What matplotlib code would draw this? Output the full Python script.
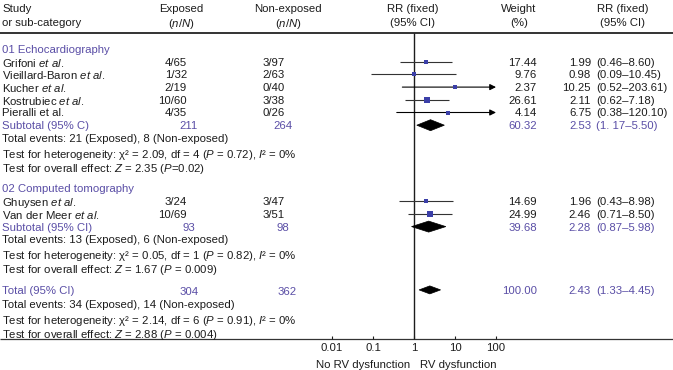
"""
Forest plot: RV dysfunction and mortality, fixed-effect risk ratios by imaging modality.
"""

import matplotlib
matplotlib.use("Agg")
import matplotlib.pyplot as plt
import matplotlib.ticker as mticker
from matplotlib.patches import Polygon

# ---- data -------------------------------------------------------------
studies      = ["Grifoni", "Vieillard-Baron", "Kucher", "Kostrubiec", "Pieralli",
                "Ghuysen", "Van der Meer"]
etal_italic  = [True, True, True, True, False, True, True]
study_group  = [0, 0, 0, 0, 0, 1, 1]
exp_events   = [4, 1, 2, 10, 4, 3, 10]
exp_total    = [65, 32, 19, 60, 35, 24, 69]
non_events   = [3, 2, 0, 3, 0, 3, 3]
non_total    = [97, 63, 40, 38, 26, 47, 51]
weights      = [17.44, 9.76, 2.37, 26.61, 4.14, 14.69, 24.99]
rr           = [1.99, 0.98, 10.25, 2.11, 6.75, 1.96, 2.46]
rr_lo        = [0.46, 0.09, 0.52, 0.62, 0.38, 0.43, 0.71]
rr_hi        = [8.60, 10.45, 203.61, 7.18, 120.10, 8.98, 8.50]

groups        = ["01 Echocardiography", "02 Computed tomography"]
sub_labels    = ["Subtotal (95% C)", "Subtotal (95% CI)"]
sub_exp_n     = [211, 93]
sub_non_n     = [264, 98]
sub_weight    = [60.32, 39.68]
sub_rr        = [2.53, 2.28]
sub_lo        = [1.17, 0.87]
sub_hi        = [5.50, 5.98]
sub_ci_text   = ["(1. 17–5.50)", "(0.87–5.98)"]
sub_ev_exp    = [21, 13]
sub_ev_non    = [8, 6]
sub_chi2      = [2.09, 0.05]
sub_df        = [4, 1]
sub_het_p     = ["0.72", "0.82"]
sub_i2        = [0, 0]
sub_z         = [2.35, 1.67]
sub_z_p       = ["$P$=0.02", "$P$ = 0.009"]

tot_exp_n, tot_non_n = 304, 362
tot_weight = 100.00
tot_rr, tot_lo, tot_hi = 2.43, 1.33, 4.45
tot_ev_exp, tot_ev_non = 34, 14
tot_chi2, tot_df, tot_het_p, tot_i2 = 2.14, 6, "0.91", 0
tot_z, tot_z_p = 2.88, "$P$ = 0.004"

ticks       = [0.01, 0.1, 1, 10, 100]
tick_labels = ["0.01", "0.1", "1", "10", "100"]

# ---- style ------------------------------------------------------------
INK, PURPLE, SQUARE = "#1c1c1c", "#5a4ea6", "#3b3fa8"
FS = 8.2
plt.rcParams.update({
    "font.family":      "Liberation Sans",
    "mathtext.fontset": "custom",
    "mathtext.rm":      "Liberation Sans",
    "mathtext.it":      "Liberation Sans:italic",
    "mathtext.bf":      "Liberation Sans:bold",
    "font.size":        FS,
})

W, H = 673, 370
X_LO, X_HI = 332, 496      # pixel span of 0.01 .. 100
TOP_LINE, AX_BOTTOM = 33, 339

fig = plt.figure(figsize=(W / 100, H / 100), dpi=100)
tx = fig.add_axes([0, 0, 1, 1])
tx.set_xlim(0, W)
tx.set_ylim(H, 0)
tx.axis("off")

fx = fig.add_axes([X_LO / W, (H - AX_BOTTOM) / H, (X_HI - X_LO) / W, AX_BOTTOM / H])
fx.set_xscale("log")
fx.set_xlim(0.01, 100)
fx.set_ylim(AX_BOTTOM, 0)
fx.patch.set_alpha(0)
for s in fx.spines.values():
    s.set_visible(False)
fx.set_yticks([])
fx.set_xticks(ticks)
fx.set_xticklabels(tick_labels)
fx.xaxis.set_minor_locator(mticker.NullLocator())
fx.tick_params(axis="x", direction="in", length=2.5, width=0.8, pad=3.2,
               labelsize=FS, colors=INK)


def t(x, y, s, ha="left", color=INK, **kw):
    tx.text(x, y, s, ha=ha, va="center_baseline", color=color, fontsize=FS, **kw)


# column positions (pixels)
C_LEFT, C_EXP, C_NON = 2, 187, 285
C_EXP_SUB, C_NON_SUB = 189, 283
C_W, C_RR, C_CI = 537, 591, 596

# header
t(C_LEFT, 8, "Study")
t(C_LEFT, 22, "or sub-category")
for x, a, b in [(181, "Exposed", "$(n/N)$"), (288, "Non-exposed", "$(n/N)$"),
                (413, "RR (fixed)", "(95% CI)"), (519, "Weight", "(%)"),
                (623, "RR (fixed)", "(95% CI)")]:
    t(x, 8, a, ha="center")
    t(x, 22, b, ha="center")
tx.hlines(TOP_LINE, 0, W, color="#333333", lw=1.4)
tx.hlines(AX_BOTTOM, 0, W, color="#333333", lw=0.9)
fx.vlines(1, TOP_LINE, AX_BOTTOM, color=INK, lw=1.0)


def diamond(y, est, lo, hi, h):
    fx.add_patch(Polygon([(lo, y), (est, y - h), (hi, y), (est, y + h)],
                         closed=True, fc="black", ec="black", lw=0.5, zorder=3))


def summary_lines(y, ev_e, ev_n, chi2, df, p, i2, z, zp):
    t(C_LEFT, y, f"Total events: {ev_e} (Exposed), {ev_n} (Non-exposed)")
    y += STEP + 2.5
    t(C_LEFT, y, f"Test for heterogeneity: χ² = {chi2:.2f}, df = {df} "
                 f"($P$ = {p}), $I$² = {i2}%")
    y += STEP + 1
    t(C_LEFT, y, f"Test for overall effect: $Z$ = {z:.2f} ({zp})")
    return y


STEP = 12.7
y = 49
for g, gname in enumerate(groups):
    t(C_LEFT, y, gname, color=PURPLE)
    for i in [k for k, sg in enumerate(study_group) if sg == g]:
        y += STEP
        name = studies[i] + (r" $et\ al.$" if etal_italic[i] else " et al.")
        t(C_LEFT, y, name)
        t(C_EXP, y, f"{exp_events[i]}/{exp_total[i]}", ha="right")
        t(C_NON, y, f"{non_events[i]}/{non_total[i]}", ha="right")
        t(C_W, y, f"{weights[i]:.2f}", ha="right")
        t(C_RR, y, f"{rr[i]:.2f}", ha="right")
        t(C_CI, y, f"({rr_lo[i]:.2f}–{rr_hi[i]:.2f})")
        if rr_hi[i] > ticks[-1]:
            fx.annotate("", xy=(ticks[-1], y), xytext=(rr_lo[i], y),
                        arrowprops=dict(arrowstyle="-|>", color="black", lw=0.8,
                                        mutation_scale=9, shrinkA=0, shrinkB=0),
                        annotation_clip=False)
        else:
            fx.hlines(y, rr_lo[i], rr_hi[i], color="#333333", lw=0.8)
        fx.plot(rr[i], y, marker="s", color=SQUARE, lw=0, mew=0,
                ms=(3 + 0.45 * weights[i] ** 0.5) * 0.72, zorder=4)
    y += STEP
    t(C_LEFT, y, sub_labels[g], color=PURPLE)
    t(C_EXP_SUB, y, f"{sub_exp_n[g]}", ha="center", color=PURPLE)
    t(C_NON_SUB, y, f"{sub_non_n[g]}", ha="center", color=PURPLE)
    t(C_W, y, f"{sub_weight[g]:.2f}", ha="right", color=PURPLE)
    t(C_RR, y, f"{sub_rr[g]:.2f}", ha="right", color=PURPLE)
    t(C_CI, y, sub_ci_text[g], color=PURPLE)
    diamond(y, sub_rr[g], sub_lo[g], sub_hi[g], 5.5)
    y = summary_lines(y + STEP, sub_ev_exp[g], sub_ev_non[g], sub_chi2[g],
                      sub_df[g], sub_het_p[g], sub_i2[g], sub_z[g], sub_z_p[g])
    y += STEP + 9

# overall total
t(C_LEFT, y, "Total (95% CI)", color=PURPLE)
t(C_EXP_SUB, y + 1, f"{tot_exp_n}", ha="center", color=PURPLE)
t(C_NON_SUB + 4, y + 1, f"{tot_non_n}", ha="center", color=PURPLE)
t(C_W, y, f"{tot_weight:.2f}", ha="right", color=PURPLE)
t(C_RR, y, f"{tot_rr:.2f}", ha="right", color=PURPLE)
t(C_CI, y, f"({tot_lo:.2f}–{tot_hi:.2f})", color=PURPLE)
diamond(y, tot_rr, tot_lo, tot_hi, 4)
summary_lines(y + STEP + 1.5, tot_ev_exp, tot_ev_non, tot_chi2, tot_df,
              tot_het_p, tot_i2, tot_z, tot_z_p)

# axis captions
fx.annotate("No RV dysfunction", xy=(1, 364), xytext=(-3, 0), textcoords="offset points",
            ha="right", va="center_baseline", fontsize=FS, color=INK, annotation_clip=False)
fx.annotate("RV dysfunction", xy=(1, 364), xytext=(4.5, 0), textcoords="offset points",
            ha="left", va="center_baseline", fontsize=FS, color=INK, annotation_clip=False)

fig.savefig("out.png", dpi=100)
plt.close(fig)
